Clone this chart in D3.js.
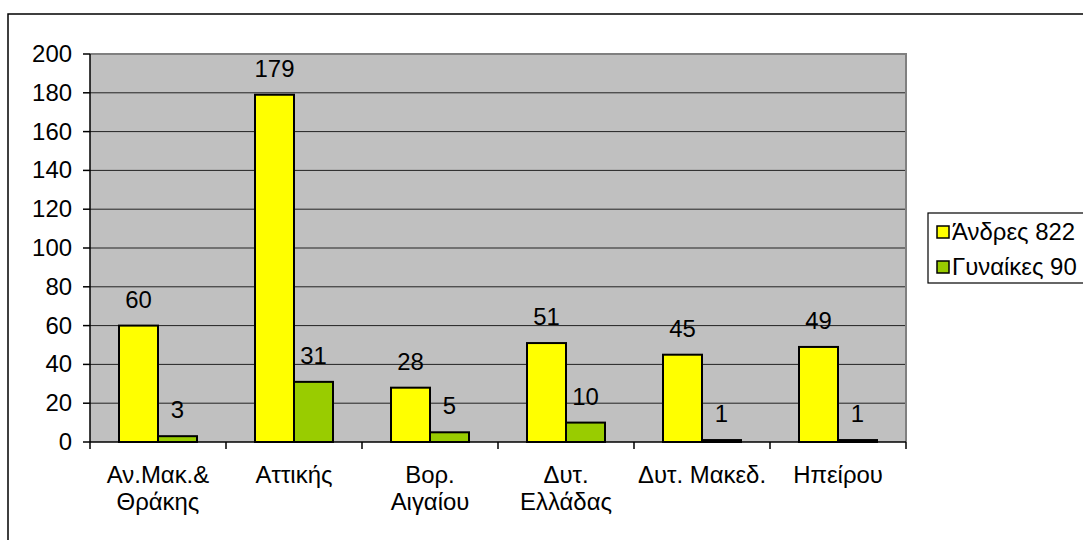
<!DOCTYPE html>
<html><head><meta charset="utf-8">
<script src="https://cdn.jsdelivr.net/npm/d3@7"></script>
<style>body{margin:0;background:#fff;}svg{display:block;font-family:"Liberation Sans",Arial,sans-serif;}</style>
</head><body>
<svg id="c" width="1083" height="540"></svg>
<script>
const categories = [["Αν.Μακ.&","Θράκης"],["Αττικής"],["Βορ.","Αιγαίου"],["Δυτ.","Ελλάδας"],["Δυτ. Μακεδ."],["Ηπείρου"]];
const seriesNames = ["Άνδρες 822","Γυναίκες 90"];
const men = [60,179,28,51,45,49];
const women = [3,31,5,10,1,1];
const colors = ["#FFFF00","#99CC00"];
const yTicks = [0,20,40,60,80,100,120,140,160,180,200];

const svg = d3.select("#c");
const fs = 23, sx = 1.04;
function txt(parent, x, y, s, anchor){
  return parent.append("text")
    .attr("transform",`translate(${x},${y}) scale(${sx},1)`)
    .attr("text-anchor",anchor||"middle").attr("font-size",fs).attr("fill","#000").text(s);
}
// outer border
svg.append("rect").attr("x",8).attr("y",14).attr("width",1090).attr("height",540)
  .attr("fill","none").attr("stroke","#000").attr("stroke-width",1.5);

const L=90,R=906,T=54,B=442;
const x0 = d3.scaleBand().domain(d3.range(categories.length)).range([L,R]).paddingInner(0).paddingOuter(0);
const x1 = d3.scaleBand().domain([0,1]).range([0,x0.bandwidth()]).paddingInner(0).paddingOuter(0.7436);
const y = d3.scaleLinear().domain([0,200]).range([B,T]);

svg.append("rect").attr("x",L).attr("y",T).attr("width",R-L).attr("height",B-T).attr("fill","#C0C0C0");
// gridlines
svg.append("g").selectAll("line").data(yTicks.filter(d=>d>0&&d<200)).join("line")
  .attr("x1",L).attr("x2",R).attr("y1",d=>y(d)).attr("y2",d=>y(d)).attr("stroke","#222").attr("stroke-width",1);
// top/right border gray
svg.append("path").attr("d",`M${L},${T}H${R}V${B}`).attr("fill","none").attr("stroke","#808080").attr("stroke-width",2);

// bars
const data = [men,women];
data.forEach((vals,si)=>{
  const g = svg.append("g");
  g.selectAll("rect").data(vals).join("rect")
    .attr("x",(d,i)=>x0(i)+x1(si)).attr("y",d=>y(d))
    .attr("width",x1.bandwidth()).attr("height",d=>B-y(d))
    .attr("fill",colors[si]).attr("stroke","#000").attr("stroke-width",2);
  vals.forEach((d,i)=>txt(g, x0(i)+x1(si)+x1.bandwidth()/2, y(d)-18, d));
});

// y axis
const ya = svg.append("g");
ya.append("line").attr("x1",L).attr("x2",L).attr("y1",T).attr("y2",B).attr("stroke","#000").attr("stroke-width",1.5);
ya.selectAll("line.t").data(yTicks).join("line").attr("class","t")
  .attr("x1",L-7).attr("x2",L).attr("y1",d=>y(d)).attr("y2",d=>y(d)).attr("stroke","#000").attr("stroke-width",1.5);
yTicks.forEach(d=>txt(ya, 72, y(d)+8, d, "end"));

// x axis
svg.append("line").attr("x1",L).attr("x2",R).attr("y1",B).attr("y2",B).attr("stroke","#000").attr("stroke-width",1.5);
svg.append("g").selectAll("line").data(d3.range(categories.length+1)).join("line")
  .attr("x1",i=>L+i*x0.bandwidth()).attr("x2",i=>L+i*x0.bandwidth())
  .attr("y1",B).attr("y2",B+7).attr("stroke","#000").attr("stroke-width",1.5);
const cg = svg.append("g");
categories.forEach((lines,i)=>lines.forEach((s,k)=>txt(cg, x0(i)+x0.bandwidth()/2, 483+k*27, s)));

// legend
svg.append("rect").attr("x",928).attr("y",213).attr("width",170).attr("height",70)
  .attr("fill","#fff").attr("stroke","#000").attr("stroke-width",1.2);
const lgs = svg.append("g");
seriesNames.forEach((s,i)=>{
  const cy = 232+i*35;
  lgs.append("rect").attr("x",937).attr("y",cy-6).attr("width",12).attr("height",12)
    .attr("fill",colors[i]).attr("stroke","#000").attr("stroke-width",1.5);
  txt(lgs, 952, cy+8, s, "start");
});
</script>
</body></html>
